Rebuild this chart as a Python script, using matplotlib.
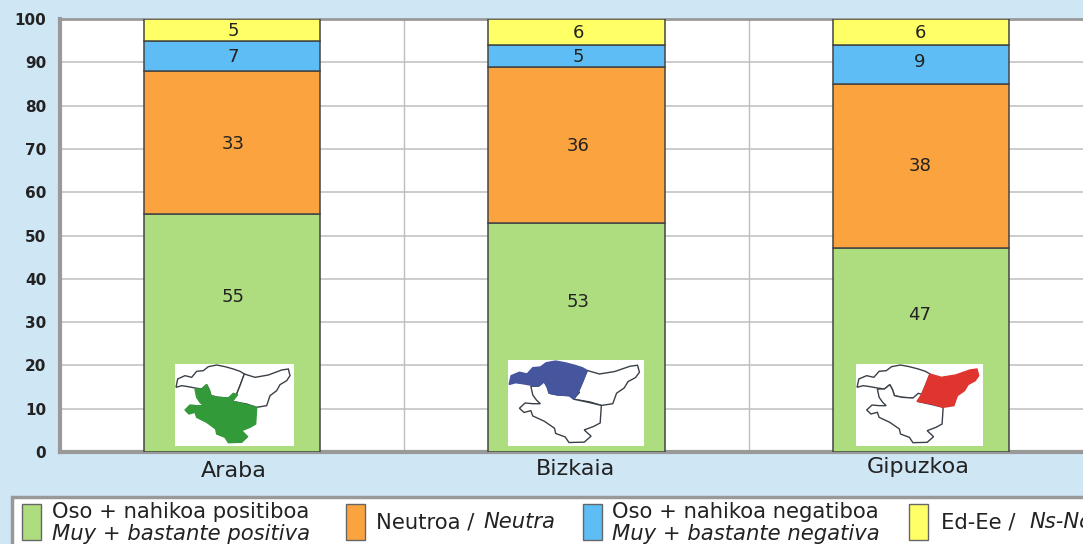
import matplotlib
matplotlib.use('Agg')  # Use non-interactive backend
import matplotlib.pyplot as plt
import numpy as np

W, H = 1083, 544

categories = ['Araba', 'Bizkaia', 'Gipuzkoa']
positive = [55, 53, 47]
neutral = [33, 36, 38]
negative = [7, 5, 9]
no_answer = [5, 6, 6]

colors = ['#AEDD7F', '#FBA33F', '#5EBDF4', '#FFFF66']
bg = '#CFE6F5'

bizkaia_shape = [(3, 70), (8, 45), (30, 35), (50, 40), (65, 22), (85, 20), (100, 8), (125, 3), (150, 8),
                 (175, 15), (195, 22), (208, 30), (195, 65), (185, 90), (172, 112), (160, 102), (130, 100),
                 (108, 95), (103, 78), (95, 62), (80, 75), (60, 72), (40, 68), (20, 65)]
gipuzkoa_shape = [(208, 30), (240, 40), (280, 33), (320, 18), (340, 15), (345, 35), (335, 50), (315, 62),
                  (305, 80), (285, 95), (275, 125), (245, 130), (215, 120), (172, 112), (185, 90), (195, 65)]
araba_shape = [(60, 75), (80, 75), (95, 62), (103, 78), (108, 95), (130, 100), (160, 102), (175, 88),
               (188, 92), (172, 112), (215, 122), (245, 130), (242, 180), (225, 190), (200, 200), (218, 218),
               (200, 235), (160, 236), (150, 220), (125, 210), (122, 195), (95, 175), (65, 160), (60, 145),
               (42, 150), (30, 138), (45, 123), (65, 125), (85, 125), (75, 115), (65, 100)]

plt.rcParams['font.family'] = ['DejaVu Sans']

fig = plt.figure(figsize=(W / 100, H / 100), dpi=100, facecolor=bg)

# axes runs past the right edge of the picture, like the reference crop
ax = fig.add_axes([60 / W, 1 - 452 / H, (1093 - 60) / W, (452 - 19) / H])
x = np.arange(len(categories))
bottom = np.zeros(len(categories))
segments = [positive, neutral, negative, no_answer]
for vals, col in zip(segments, colors):
    ax.bar(x, vals, 0.512, bottom=bottom, color=col, edgecolor='#444444', linewidth=1.1, zorder=3)
    bottom += np.array(vals)

ax.set_xlim(-0.5, 2.5)
ax.set_ylim(0, 100)
ax.set_yticks(range(0, 101, 10))
ax.set_xticks(x)
ax.set_xticks([0.5, 1.5], minor=True)
ax.set_xticklabels([])
ax.tick_params(axis='y', length=0, pad=10, labelsize=11, labelcolor='#222222')
ax.tick_params(axis='x', which='both', length=0)
for lab in ax.get_yticklabels():
    lab.set_fontweight('bold')
ax.grid(axis='y', color='#BEBEBE', linewidth=1.1, zorder=0)
ax.grid(axis='x', which='minor', color='#BEBEBE', linewidth=1.0, zorder=0)
ax.set_axisbelow(True)
ax.spines['right'].set_visible(False)
ax.spines['top'].set_color('#999999')
ax.spines['top'].set_linewidth(2)
for side in ['left', 'bottom']:
    ax.spines[side].set_color('#999999')
    ax.spines[side].set_linewidth(3)

# overlay in pixel coordinates for labels, maps, category names and legend
ov = fig.add_axes([0, 0, 1, 1], facecolor='none')
ov.set_xlim(0, W)
ov.set_ylim(H, 0)
ov.axis('off')

# value labels do not sit at segment centres in the reference
label_rows = {0: [297, 302, 315], 1: [144, 146, 166], 2: [57, 57, 62], 3: [31, 33, 33]}
for s, vals in enumerate(segments):
    for cx, cy, v in zip([233, 578, 920], label_rows[s], vals):
        ov.text(cx, cy, str(v), ha='center', va='center', fontsize=13, color='#222222', zorder=4)


def draw_map(box, fill):
    x0, y0, x1, y1 = box
    ov.add_patch(plt.Rectangle((x0, y0), x1 - x0, y1 - y0, facecolor='white', edgecolor='none', zorder=5))
    for shape, c in zip([bizkaia_shape, gipuzkoa_shape, araba_shape], fill):
        pts = [(x0 + u / 357 * (x1 - x0), y0 + v / 246 * (y1 - y0)) for u, v in shape]
        ov.add_patch(plt.Polygon(pts, closed=True, facecolor=c, edgecolor='#3A4048' if c == 'white' else c,
                                 linewidth=1.0, zorder=6 if c == 'white' else 7))


draw_map((175, 364, 294, 446), ['white', 'white', '#339A39'])
draw_map((508, 360, 644, 446), ['#45559E', 'white', 'white'])
draw_map((856, 364, 983, 446), ['white', '#E0352F', 'white'])

for name, cx, cy in zip(categories, [234, 575, 918], [471, 469, 467]):
    ov.text(cx, cy, name, ha='center', va='center', fontsize=16, color='#222222')

# legend box
ov.add_patch(plt.Rectangle((12, 497), 1090, 60, facecolor='white', edgecolor='#999999', linewidth=2.5, zorder=2))
for sx, col in zip([22, 346, 583, 909], colors):
    ov.add_patch(plt.Rectangle((sx, 504), 19, 36, facecolor=col, edgecolor='#666666', linewidth=1, zorder=3))

leg = dict(va='center', fontsize=15.2, color='#222222', zorder=4)
ov.text(52, 512, 'Oso + nahikoa positiboa', **leg)
ov.text(52, 534, 'Muy + bastante positiva', style='italic', **leg)
ov.text(376, 522, 'Neutroa /', **leg)
ov.text(483, 522, 'Neutra', style='italic', **leg)
ov.text(612, 512, 'Oso + nahikoa negatiboa', **leg)
ov.text(612, 534, 'Muy + bastante negativa', style='italic', **leg)
ov.text(941, 522, 'Ed-Ee /', **leg)
ov.text(1029, 522, 'Ns-Nc', style='italic', **leg)

plt.savefig('out.png', dpi=100, facecolor=bg)
plt.close()
